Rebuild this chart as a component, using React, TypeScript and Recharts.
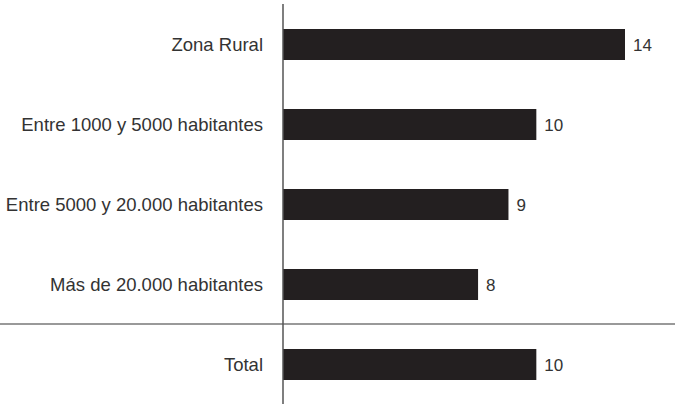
import { BarChart, Bar, XAxis, YAxis, LabelList, ReferenceLine } from "recharts"

const categories = [
  "Zona Rural",
  "Entre 1000 y 5000 habitantes",
  "Entre 5000 y 20.000 habitantes",
  "Más de 20.000 habitantes",
  "Total",
]
const values = [13.5, 10, 8.9, 7.7, 10]

const data = categories.map((name, i) => ({ name, value: values[i] }))

const FONT = "'Liberation Sans', Arial, Helvetica, sans-serif"

export default function App() {
  return (
    <div style={{ position: "absolute", left: 0, top: 0, width: 675, height: 405, background: "#fff" }}>
      <BarChart
        width={675}
        height={405}
        data={data}
        layout="vertical"
        margin={{ top: 4, right: 12, left: 0, bottom: 1 }}
      >
        <XAxis type="number" domain={[0, 15]} hide />
        <YAxis
          type="category"
          dataKey="name"
          width={283}
          tickLine={false}
          tickSize={6}
          tickMargin={14}
          axisLine={{ stroke: "#555", strokeWidth: 1.5 }}
          tick={{ fontSize: 18.5, fill: "#333", fontFamily: FONT }}
          interval={0}
        />
        {/* separator above the Total row, across the whole width */}
        <ReferenceLine
          ifOverflow="visible"
          position="start"
          segment={[
            { x: -11.2, y: "Total" },
            { x: 15.6, y: "Total" },
          ]}
          stroke="#777"
          strokeWidth={1.5}
        />
        <Bar dataKey="value" fill="#231f20" barSize={31} isAnimationActive={false}>
          <LabelList
            dataKey="value"
            position="right"
            offset={8}
            formatter={(v: number) => Math.round(v)}
            style={{ fontSize: 17, fill: "#333", fontFamily: FONT }}
          />
        </Bar>
      </BarChart>
    </div>
  )
}
